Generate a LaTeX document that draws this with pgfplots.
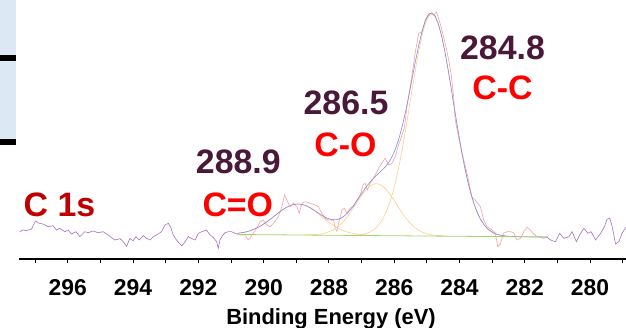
\documentclass[border=0pt]{standalone}
\usepackage{pgfplots}
\pgfplotsset{compat=1.18}
\usepackage{pgfplotstable}
\usepackage{fontspec}
\setmainfont{Liberation Sans}
\definecolor{rawpurple}{RGB}{165,110,195}
\definecolor{rawpink}{RGB}{244,160,165}
\definecolor{envblue}{RGB}{135,135,225}
\definecolor{comporange}{RGB}{255,205,140}
\definecolor{bggreen}{RGB}{160,215,110}
\definecolor{numpurple}{RGB}{74,24,56}
\definecolor{darkred}{RGB}{192,0,0}
\definecolor{fragblue}{RGB}{220,232,243}

\pgfplotstableread{
E I
297.47 27.3
297.37 29.0
297.27 28.3
297.11 30.0
296.99 38.0
296.88 35.7
296.76 35.0
296.60 32.3
296.45 33.3
296.35 29.0
296.25 30.7
296.09 27.3
295.99 29.0
295.89 25.0
295.75 27.3
295.63 22.3
295.48 27.3
295.38 26.3
295.22 28.0
295.07 26.3
294.92 27.3
294.76 24.0
294.66 21.3
294.56 19.0
294.40 20.3
294.30 17.3
294.20 12.7
294.10 20.5
294.00 18.3
293.91 22.3
293.81 19.0
293.69 23.5
293.59 20.7
293.48 19.0
293.38 22.3
293.28 24.0
293.13 27.3
293.02 34.0
292.92 35.7
292.85 32.0
292.77 24.0
292.67 19.0
292.51 13.0
292.41 17.0
292.31 22.5
292.21 20.5
292.10 19.0
292.00 25.7
291.90 27.3
291.75 29.0
291.64 24.0
291.54 21.5
291.44 17.3
291.39 10.7
291.34 19.0
291.25 24.0
291.18 26.3
291.08 27.3
290.98 27.3
290.88 25.7
290.78 24.7
}\rawleft

\pgfplotstableread{
E I
290.78 24.7
290.67 24.0
290.57 24.0
290.47 19.0
290.42 20.7
290.32 25.7
290.21 30.7
290.11 37.3
290.01 39.0
289.90 34.0
289.80 32.3
289.70 35.7
289.55 42.3
289.44 52.3
289.36 64.0
289.29 59.0
289.19 52.3
289.09 55.7
288.98 52.3
288.91 45.7
288.83 55.7
288.73 57.3
288.58 55.7
288.42 54.0
288.32 52.3
288.22 45.7
288.12 40.7
288.02 39.0
287.86 39.0
287.81 30.7
287.76 28.0
287.68 39.0
287.60 49.0
287.53 50.7
287.45 45.7
287.35 50.7
287.25 52.3
287.14 59.0
287.04 64.0
286.96 74.0
286.89 75.7
286.82 69.0
286.74 75.7
286.63 80.7
286.53 87.3
286.45 92.3
286.38 95.7
286.28 100.7
286.17 94.0
286.07 95.7
285.97 102.3
285.87 114.0
285.76 124.0
285.69 131.0
285.61 152.3
285.46 182.3
285.36 205.7
285.25 225.7
285.15 227.3
285.05 239.0
284.92 245.7
284.79 244.0
284.71 247.3
284.64 240.7
284.54 229.0
284.44 215.7
284.33 199.0
284.26 185.7
284.18 162.3
284.13 139.0
284.03 122.3
283.92 105.7
283.77 85.7
283.62 62.3
283.52 59.0
283.36 52.3
283.26 39.0
283.16 32.3
283.00 29.0
282.90 25.7
282.83 12.3
282.75 15.0
282.65 25.7
282.54 27.3
282.44 27.3
282.34 26.3
282.24 19.0
282.13 20.7
282.03 27.3
281.93 31.7
281.83 29.0
281.73 25.0
281.62 22.3
281.52 21.7
281.42 20.7
281.32 21.7
}\rawfit

\pgfplotstableread{
E I
281.32 21.7
281.21 19.0
281.06 17.3
280.93 25.7
280.81 20.7
280.65 22.3
280.55 27.3
280.42 17.3
280.32 24.0
280.19 30.7
280.07 25.7
279.97 27.3
279.83 19.0
279.68 25.7
279.56 32.3
279.48 39.7
279.40 40.7
279.32 32.3
279.22 15.0
279.12 17.3
279.02 25.7
278.91 31.7
}\rawright

\pgfplotstableread{
E I
282.25 22.4
282.35 22.5
282.45 22.6
282.55 22.8
282.65 23.3
282.75 23.8
282.85 24.6
282.95 25.9
283.05 27.9
283.15 30.5
283.25 34.3
283.35 39.3
283.45 46.0
283.55 54.5
283.65 65.1
283.75 78.0
283.85 93.1
283.95 110.3
284.05 129.2
284.15 149.3
284.25 169.7
284.35 189.4
284.45 207.6
284.55 223.1
284.65 234.9
284.75 242.4
284.85 244.9
284.95 242.5
285.05 235.0
285.15 223.2
285.25 207.8
285.35 189.7
285.45 170.0
285.55 149.6
285.65 129.6
285.75 110.8
285.85 93.6
285.95 78.6
286.05 65.8
286.15 55.2
286.25 46.7
286.35 40.1
286.45 35.2
286.55 31.4
286.65 28.8
286.75 26.9
286.85 25.7
286.95 24.9
287.05 24.4
287.15 24.0
287.25 23.9
287.35 23.8
287.45 23.7
}\compCC

\pgfplotstableread{
E I
284.35 22.9
284.45 23.0
284.55 23.2
284.65 23.4
284.75 23.7
284.85 24.1
284.95 24.9
285.05 25.8
285.15 27.1
285.25 28.8
285.35 31.1
285.45 33.9
285.55 37.3
285.65 41.2
285.75 45.8
285.85 50.7
285.95 55.8
286.05 60.9
286.15 65.5
286.25 69.6
286.35 72.7
286.45 74.7
286.55 75.4
286.65 74.7
286.75 72.8
286.85 69.8
286.95 65.7
287.05 61.1
287.15 56.1
287.25 51.1
287.35 46.2
287.45 41.7
287.55 37.8
287.65 34.5
287.75 31.7
287.85 29.5
287.95 27.9
288.05 26.6
288.15 25.7
288.25 25.0
288.35 24.7
288.45 24.4
288.55 24.2
288.65 24.1
288.75 24.1
}\compCO

\pgfplotstableread{
E I
286.55 23.5
286.65 23.6
286.75 23.7
286.85 23.9
286.95 24.2
287.05 24.5
287.15 24.9
287.25 25.5
287.35 26.2
287.45 27.1
287.55 28.3
287.65 29.8
287.75 31.4
287.85 33.4
287.95 35.6
288.05 38.0
288.15 40.5
288.25 43.1
288.35 45.8
288.45 48.3
288.55 50.5
288.65 52.3
288.75 53.8
288.85 54.7
288.95 55.0
289.05 54.7
289.15 53.9
289.25 52.5
289.35 50.7
289.45 48.6
289.55 46.1
289.65 43.5
289.75 40.9
289.85 38.5
289.95 36.1
290.05 34.0
290.15 32.0
290.25 30.5
290.35 29.1
290.45 27.9
290.55 27.0
290.65 26.4
290.75 25.9
290.80 25.7
}\compCdO

\pgfplotstableread{
E I
281.30 22.0
282.15 22.2
282.25 22.4
282.35 22.5
282.45 22.6
282.55 22.8
282.65 23.3
282.75 23.8
282.85 24.6
282.95 25.9
283.05 27.9
283.15 30.5
283.25 34.3
283.35 39.3
283.45 46.0
283.55 54.5
283.65 65.1
283.75 78.0
283.85 93.1
283.95 110.3
284.05 129.2
284.15 149.3
284.25 169.7
284.35 189.5
284.45 207.8
284.55 223.4
284.65 235.4
284.75 243.2
284.85 246.1
284.95 244.4
285.05 237.8
285.15 227.3
285.25 213.6
285.35 197.7
285.45 180.8
285.55 163.8
285.65 147.7
285.75 133.4
285.85 121.1
285.95 111.2
286.05 103.4
286.15 97.4
286.25 93.0
286.35 89.5
286.45 86.5
286.55 83.5
286.65 80.3
286.75 76.6
286.85 72.4
286.95 67.8
287.05 63.0
287.15 58.0
287.25 53.3
287.35 49.0
287.45 45.3
287.55 42.5
287.65 40.6
287.75 39.4
287.85 39.2
287.95 39.7
288.05 40.8
288.15 42.4
288.25 44.3
288.35 46.6
288.45 48.8
288.55 50.8
288.65 52.5
288.75 53.9
288.85 54.7
288.95 55.0
289.05 54.7
289.15 53.9
289.25 52.5
289.35 50.7
289.45 48.6
289.55 46.1
289.65 43.5
289.75 40.9
289.85 38.5
289.95 36.1
290.05 34.0
290.15 32.0
290.25 30.5
290.35 29.1
290.45 27.9
290.55 27.0
290.65 26.4
290.75 25.9
290.80 25.7
}\envelope

\begin{document}
\begin{tikzpicture}
\path[use as bounding box] (0,0) rectangle (626bp,328bp);
\fill[fragblue] (0,189bp) rectangle (16bp,328bp);
\fill[black] (0,267bp) rectangle (16bp,273bp);
\fill[black] (0,183bp) rectangle (16bp,189bp);
\begin{axis}[
  at={(19bp,69bp)}, anchor=south west,
  scale only axis, width=607bp, height=259bp,
  xmin=278.90, xmax=297.495, ymin=0, ymax=259,
  x dir=reverse,
  axis x line*=bottom, axis y line=none,
  x axis line style={line width=1.5bp, black, -},
  xtick={280,282,...,296},
  minor xtick={279,281,...,297},
  xtick align=outside,
  major tick length=4bp, minor tick length=4bp,
  every tick/.style={black, line width=0.9bp},
  /pgf/number format/assume math mode=true,
  xticklabel style={font=\bfseries\fontsize{23}{23}\selectfont, anchor=base, yshift=-32bp},
  xlabel={Binding Energy (eV)},
  x label style={at={(axis description cs:0.514,0)}, anchor=base, yshift=-65bp, font=\bfseries\fontsize{22}{22}\selectfont},
]
\addplot[rawpurple, line width=0.6bp] table {\rawleft};
\addplot[rawpurple, line width=0.6bp] table {\rawright};
\addplot[rawpink, line width=0.6bp] table {\rawfit};
\addplot[comporange, line width=0.6bp] table {\compCC};
\addplot[comporange, line width=0.6bp] table {\compCO};
\addplot[comporange, line width=0.6bp] table {\compCdO};
\addplot[envblue, line width=0.6bp] table {\envelope};
\addplot[bggreen, line width=0.8bp] coordinates {(290.80,24.5) (281.30,22.0)};
\end{axis}
\begin{scope}[every node/.style={inner sep=0pt, anchor=base, font=\bfseries\fontsize{34}{34}\selectfont}]
\node[text=numpurple] at (238.3bp,154.7bp) {288.9};
\node[text=red] at (237.8bp,111.3bp) {C=O};
\node[text=numpurple] at (346bp,213bp) {286.5};
\node[text=red] at (345.5bp,171.3bp) {C-O};
\node[text=numpurple] at (502.5bp,268.7bp) {284.8};
\node[text=red] at (502.5bp,228bp) {C-C};
\node[text=darkred] at (59.5bp,111.3bp) {C 1s};
\end{scope}
\end{tikzpicture}
\end{document}
